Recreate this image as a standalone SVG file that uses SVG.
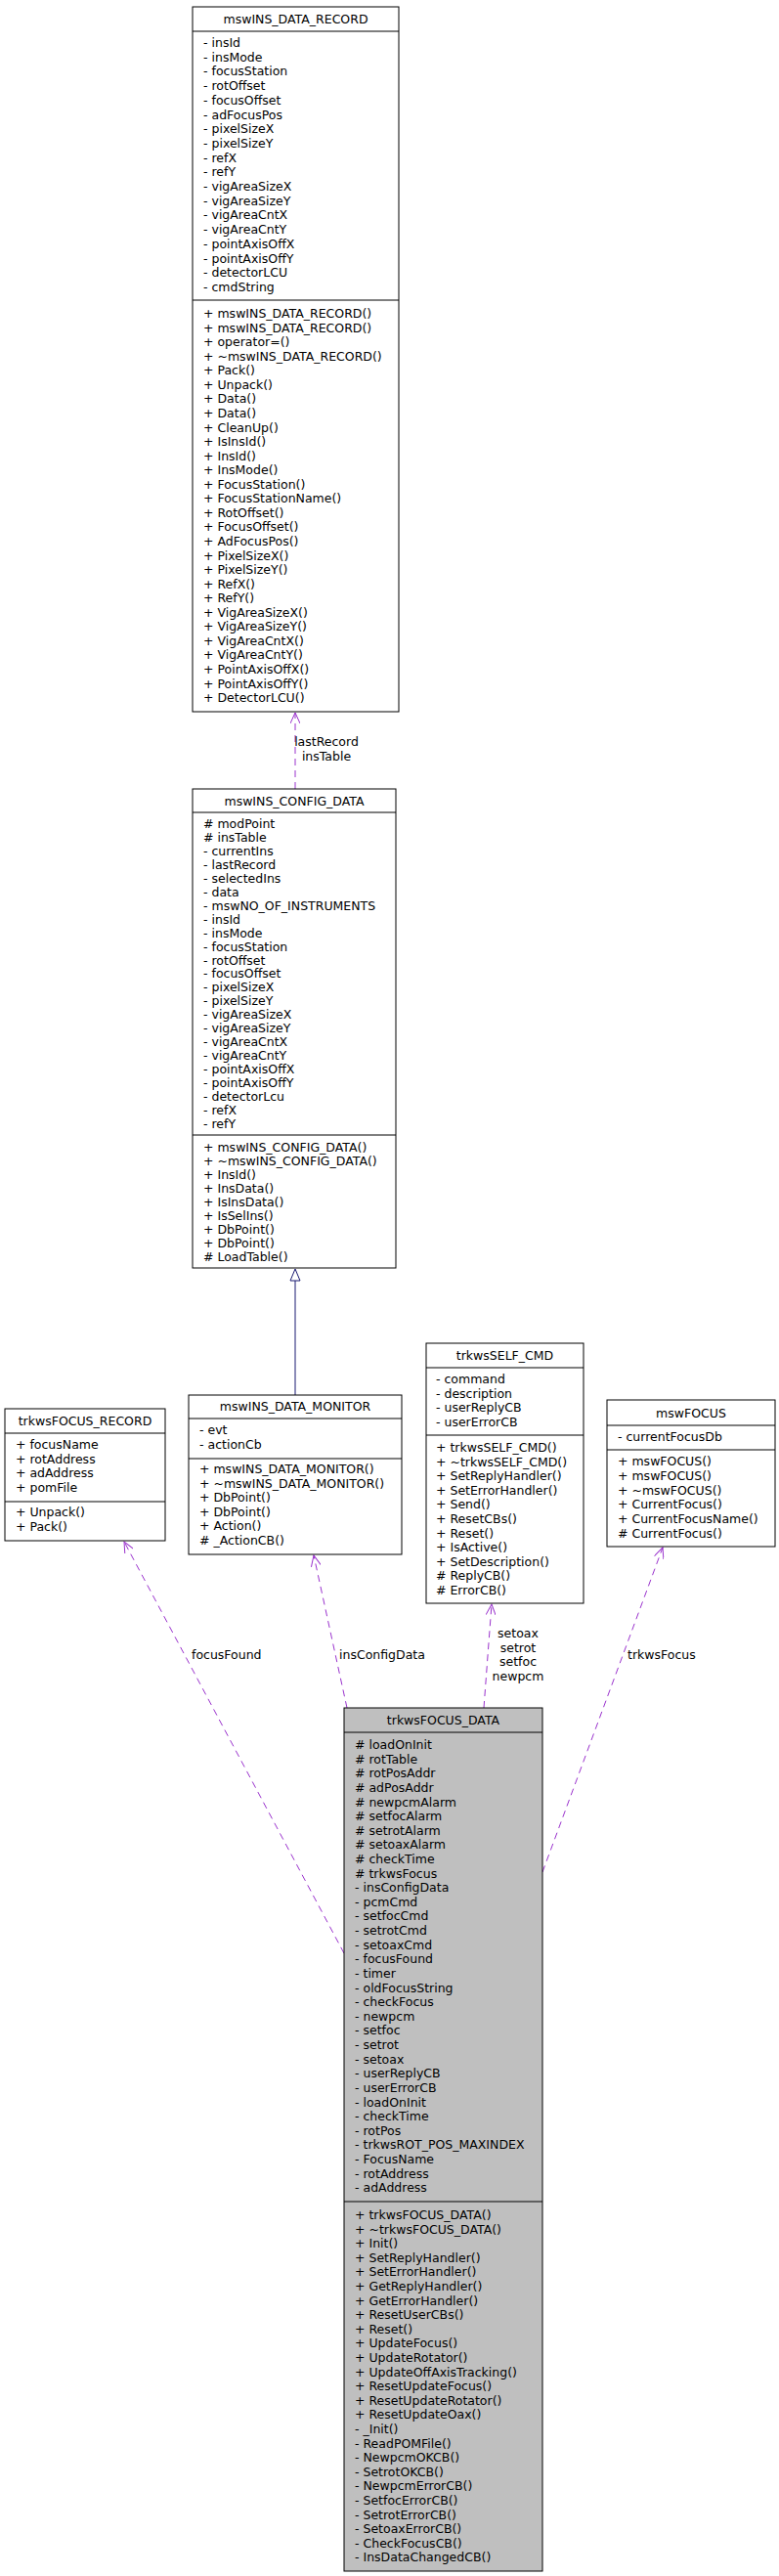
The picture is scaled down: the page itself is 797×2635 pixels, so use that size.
<svg xmlns="http://www.w3.org/2000/svg" width="797" height="2635" viewBox="0 0 797 2635">
<style>
text{font-family:"DejaVu Sans","Liberation Sans",sans-serif;font-size:12.5px;fill:#000}
.t{text-anchor:middle}
.box{fill:#fff;stroke:#000;stroke-width:1}
.g{fill:#bfbfbf}
.ln{stroke:#000;stroke-width:1}
.use{fill:none;stroke:#9a32cd;stroke-width:1;stroke-dasharray:7,5;marker-end:url(#vee)}
.inh{fill:none;stroke:#191970;stroke-width:1}
</style>
<defs>
<marker id="vee" viewBox="0 0 12 10" refX="11" refY="5" markerWidth="12" markerHeight="10" markerUnits="userSpaceOnUse" orient="auto">
<path d="M0,0 L11,5 L0,10" fill="none" stroke="#9a32cd" stroke-width="1"/>
</marker>
</defs>
<rect width="797" height="2635" fill="#fff"/>
<g id="connectors">
<path class="use" d="M302,807 L302,729"/>
<text class="t" x="334" y="763">lastRecord</text>
<text class="t" x="334" y="778">insTable</text>
<path class="inh" d="M302,1427 L302,1310"/>
<polygon points="302,1298 297,1310 307,1310" fill="#fff" stroke="#191970"/>
<path class="use" d="M352,1998 L127,1577"/>
<text x="196" y="1697">focusFound</text>
<path class="use" d="M355,1747 L321,1591"/>
<text x="347" y="1697">insConfigData</text>
<path class="use" d="M495,1747 L503,1641"/>
<text class="t" x="530" y="1675">setoax</text>
<text class="t" x="530" y="1690">setrot</text>
<text class="t" x="530" y="1704">setfoc</text>
<text class="t" x="530" y="1719">newpcm</text>
<path class="use" d="M555,1915 L678,1583"/>
<text x="642" y="1697">trkwsFocus</text>
</g>
<g id="mswINS_DATA_RECORD">
<rect class="box" x="197" y="7" width="211" height="721"/>
<line class="ln" x1="197" y1="32" x2="408" y2="32"/>
<line class="ln" x1="197" y1="307" x2="408" y2="307"/>
<text class="t" x="302.5" y="24">mswINS_DATA_RECORD</text>
<text x="208" y="48">- insId</text><text x="208" y="62.7">- insMode</text><text x="208" y="77.4">- focusStation</text><text x="208" y="92.1">- rotOffset</text><text x="208" y="106.8">- focusOffset</text><text x="208" y="121.5">- adFocusPos</text><text x="208" y="136.2">- pixelSizeX</text><text x="208" y="150.9">- pixelSizeY</text><text x="208" y="165.6">- refX</text><text x="208" y="180.3">- refY</text><text x="208" y="195">- vigAreaSizeX</text><text x="208" y="209.7">- vigAreaSizeY</text><text x="208" y="224.4">- vigAreaCntX</text><text x="208" y="239.1">- vigAreaCntY</text><text x="208" y="253.8">- pointAxisOffX</text><text x="208" y="268.5">- pointAxisOffY</text><text x="208" y="283.2">- detectorLCU</text><text x="208" y="297.9">- cmdString</text>
<text x="208" y="325">+ mswINS_DATA_RECORD()</text><text x="208" y="339.6">+ mswINS_DATA_RECORD()</text><text x="208" y="354.1">+ operator=()</text><text x="208" y="368.7">+ ~mswINS_DATA_RECORD()</text><text x="208" y="383.2">+ Pack()</text><text x="208" y="397.8">+ Unpack()</text><text x="208" y="412.4">+ Data()</text><text x="208" y="426.9">+ Data()</text><text x="208" y="441.5">+ CleanUp()</text><text x="208" y="456">+ IsInsId()</text><text x="208" y="470.6">+ InsId()</text><text x="208" y="485.2">+ InsMode()</text><text x="208" y="499.7">+ FocusStation()</text><text x="208" y="514.3">+ FocusStationName()</text><text x="208" y="528.8">+ RotOffset()</text><text x="208" y="543.4">+ FocusOffset()</text><text x="208" y="558">+ AdFocusPos()</text><text x="208" y="572.5">+ PixelSizeX()</text><text x="208" y="587.1">+ PixelSizeY()</text><text x="208" y="601.6">+ RefX()</text><text x="208" y="616.2">+ RefY()</text><text x="208" y="630.8">+ VigAreaSizeX()</text><text x="208" y="645.3">+ VigAreaSizeY()</text><text x="208" y="659.9">+ VigAreaCntX()</text><text x="208" y="674.4">+ VigAreaCntY()</text><text x="208" y="689">+ PointAxisOffX()</text><text x="208" y="703.6">+ PointAxisOffY()</text><text x="208" y="718.1">+ DetectorLCU()</text>
</g>
<g id="mswINS_CONFIG_DATA">
<rect class="box" x="197" y="807" width="208" height="490"/>
<line class="ln" x1="197" y1="831" x2="405" y2="831"/>
<line class="ln" x1="197" y1="1161" x2="405" y2="1161"/>
<text class="t" x="301" y="824">mswINS_CONFIG_DATA</text>
<text x="208" y="847"># modPoint</text><text x="208" y="860.9"># insTable</text><text x="208" y="874.9">- currentIns</text><text x="208" y="888.8">- lastRecord</text><text x="208" y="902.8">- selectedIns</text><text x="208" y="916.7">- data</text><text x="208" y="930.7">- mswNO_OF_INSTRUMENTS</text><text x="208" y="944.6">- insId</text><text x="208" y="958.6">- insMode</text><text x="208" y="972.5">- focusStation</text><text x="208" y="986.5">- rotOffset</text><text x="208" y="1000.4">- focusOffset</text><text x="208" y="1014.4">- pixelSizeX</text><text x="208" y="1028.3">- pixelSizeY</text><text x="208" y="1042.3">- vigAreaSizeX</text><text x="208" y="1056.2">- vigAreaSizeY</text><text x="208" y="1070.2">- vigAreaCntX</text><text x="208" y="1084.1">- vigAreaCntY</text><text x="208" y="1098.1">- pointAxisOffX</text><text x="208" y="1112">- pointAxisOffY</text><text x="208" y="1126">- detectorLcu</text><text x="208" y="1139.9">- refX</text><text x="208" y="1153.9">- refY</text>
<text x="208" y="1178">+ mswINS_CONFIG_DATA()</text><text x="208" y="1192">+ ~mswINS_CONFIG_DATA()</text><text x="208" y="1206">+ InsId()</text><text x="208" y="1220">+ InsData()</text><text x="208" y="1234">+ IsInsData()</text><text x="208" y="1248">+ IsSelIns()</text><text x="208" y="1262">+ DbPoint()</text><text x="208" y="1276">+ DbPoint()</text><text x="208" y="1290"># LoadTable()</text>
</g>
<g id="trkwsFOCUS_RECORD">
<rect class="box" x="5" y="1441" width="164" height="135"/>
<line class="ln" x1="5" y1="1466" x2="169" y2="1466"/>
<line class="ln" x1="5" y1="1536" x2="169" y2="1536"/>
<text class="t" x="87" y="1458">trkwsFOCUS_RECORD</text>
<text x="16" y="1482">+ focusName</text><text x="16" y="1496.6">+ rotAddress</text><text x="16" y="1511.2">+ adAddress</text><text x="16" y="1525.8">+ pomFile</text>
<text x="16" y="1551">+ Unpack()</text><text x="16" y="1565.6">+ Pack()</text>
</g>
<g id="mswINS_DATA_MONITOR">
<rect class="box" x="193" y="1427" width="218" height="163"/>
<line class="ln" x1="193" y1="1451" x2="411" y2="1451"/>
<line class="ln" x1="193" y1="1492" x2="411" y2="1492"/>
<text class="t" x="302" y="1443">mswINS_DATA_MONITOR</text>
<text x="204" y="1467">- evt</text><text x="204" y="1481.6">- actionCb</text>
<text x="204" y="1507">+ mswINS_DATA_MONITOR()</text><text x="204" y="1521.6">+ ~mswINS_DATA_MONITOR()</text><text x="204" y="1536.2">+ DbPoint()</text><text x="204" y="1550.8">+ DbPoint()</text><text x="204" y="1565.4">+ Action()</text><text x="204" y="1580"># _ActionCB()</text>
</g>
<g id="trkwsSELF_CMD">
<rect class="box" x="436" y="1374" width="161" height="266"/>
<line class="ln" x1="436" y1="1399" x2="597" y2="1399"/>
<line class="ln" x1="436" y1="1468" x2="597" y2="1468"/>
<text class="t" x="516.5" y="1391">trkwsSELF_CMD</text>
<text x="446" y="1415">- command</text><text x="446" y="1429.6">- description</text><text x="446" y="1444.2">- userReplyCB</text><text x="446" y="1458.8">- userErrorCB</text>
<text x="446" y="1485">+ trkwsSELF_CMD()</text><text x="446" y="1499.6">+ ~trkwsSELF_CMD()</text><text x="446" y="1514.2">+ SetReplyHandler()</text><text x="446" y="1528.8">+ SetErrorHandler()</text><text x="446" y="1543.4">+ Send()</text><text x="446" y="1558">+ ResetCBs()</text><text x="446" y="1572.6">+ Reset()</text><text x="446" y="1587.2">+ IsActive()</text><text x="446" y="1601.8">+ SetDescription()</text><text x="446" y="1616.4"># ReplyCB()</text><text x="446" y="1631"># ErrorCB()</text>
</g>
<g id="mswFOCUS">
<rect class="box" x="621" y="1432" width="172" height="150"/>
<line class="ln" x1="621" y1="1458" x2="793" y2="1458"/>
<line class="ln" x1="621" y1="1483" x2="793" y2="1483"/>
<text class="t" x="707" y="1450">mswFOCUS</text>
<text x="632" y="1474">- currentFocusDb</text>
<text x="632" y="1499">+ mswFOCUS()</text><text x="632" y="1513.8">+ mswFOCUS()</text><text x="632" y="1528.6">+ ~mswFOCUS()</text><text x="632" y="1543.4">+ CurrentFocus()</text><text x="632" y="1558.2">+ CurrentFocusName()</text><text x="632" y="1573"># CurrentFocus()</text>
</g>
<g id="trkwsFOCUS_DATA">
<rect class="box g" x="352" y="1747" width="203" height="883"/>
<line class="ln" x1="352" y1="1772" x2="555" y2="1772"/>
<line class="ln" x1="352" y1="2252" x2="555" y2="2252"/>
<text class="t" x="453.5" y="1764">trkwsFOCUS_DATA</text>
<text x="363" y="1789"># loadOnInit</text><text x="363" y="1803.6"># rotTable</text><text x="363" y="1818.2"># rotPosAddr</text><text x="363" y="1832.9"># adPosAddr</text><text x="363" y="1847.5"># newpcmAlarm</text><text x="363" y="1862.1"># setfocAlarm</text><text x="363" y="1876.7"># setrotAlarm</text><text x="363" y="1891.3"># setoaxAlarm</text><text x="363" y="1906"># checkTime</text><text x="363" y="1920.6"># trkwsFocus</text><text x="363" y="1935.2">- insConfigData</text><text x="363" y="1949.8">- pcmCmd</text><text x="363" y="1964.4">- setfocCmd</text><text x="363" y="1979.1">- setrotCmd</text><text x="363" y="1993.7">- setoaxCmd</text><text x="363" y="2008.3">- focusFound</text><text x="363" y="2022.9">- timer</text><text x="363" y="2037.5">- oldFocusString</text><text x="363" y="2052.2">- checkFocus</text><text x="363" y="2066.8">- newpcm</text><text x="363" y="2081.4">- setfoc</text><text x="363" y="2096">- setrot</text><text x="363" y="2110.6">- setoax</text><text x="363" y="2125.3">- userReplyCB</text><text x="363" y="2139.9">- userErrorCB</text><text x="363" y="2154.5">- loadOnInit</text><text x="363" y="2169.1">- checkTime</text><text x="363" y="2183.7">- rotPos</text><text x="363" y="2198.4">- trkwsROT_POS_MAXINDEX</text><text x="363" y="2213">- FocusName</text><text x="363" y="2227.6">- rotAddress</text><text x="363" y="2242.2">- adAddress</text>
<text x="363" y="2270">+ trkwsFOCUS_DATA()</text><text x="363" y="2284.6">+ ~trkwsFOCUS_DATA()</text><text x="363" y="2299.2">+ Init()</text><text x="363" y="2313.8">+ SetReplyHandler()</text><text x="363" y="2328.4">+ SetErrorHandler()</text><text x="363" y="2343">+ GetReplyHandler()</text><text x="363" y="2357.6">+ GetErrorHandler()</text><text x="363" y="2372.2">+ ResetUserCBs()</text><text x="363" y="2386.8">+ Reset()</text><text x="363" y="2401.4">+ UpdateFocus()</text><text x="363" y="2416">+ UpdateRotator()</text><text x="363" y="2430.6">+ UpdateOffAxisTracking()</text><text x="363" y="2445.2">+ ResetUpdateFocus()</text><text x="363" y="2459.8">+ ResetUpdateRotator()</text><text x="363" y="2474.4">+ ResetUpdateOax()</text><text x="363" y="2489">- _Init()</text><text x="363" y="2503.6">- ReadPOMFile()</text><text x="363" y="2518.2">- NewpcmOKCB()</text><text x="363" y="2532.8">- SetrotOKCB()</text><text x="363" y="2547.4">- NewpcmErrorCB()</text><text x="363" y="2562">- SetfocErrorCB()</text><text x="363" y="2576.6">- SetrotErrorCB()</text><text x="363" y="2591.2">- SetoaxErrorCB()</text><text x="363" y="2605.8">- CheckFocusCB()</text><text x="363" y="2620.4">- InsDataChangedCB()</text>
</g>
</svg>
